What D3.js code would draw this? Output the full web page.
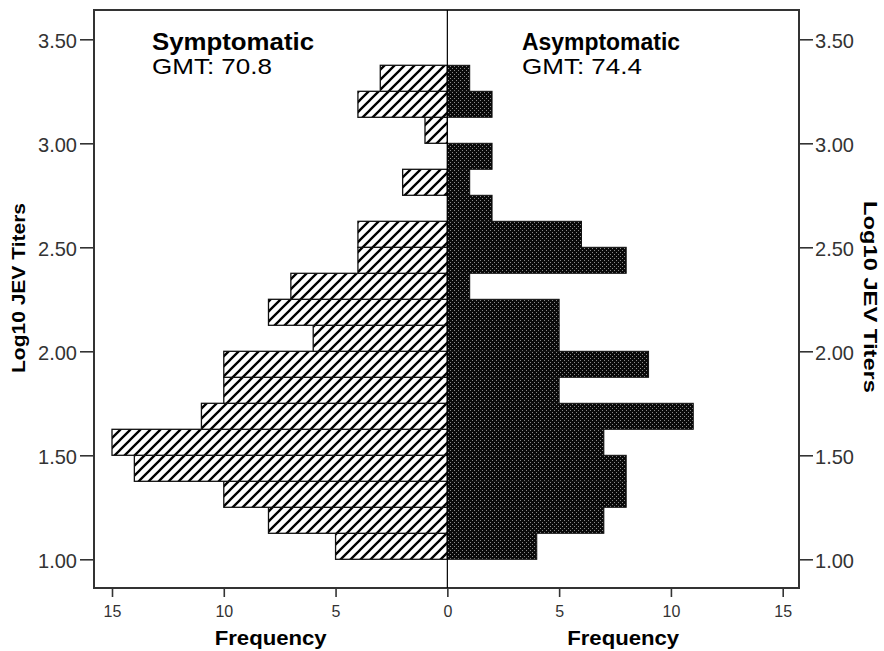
<!DOCTYPE html>
<html><head><meta charset="utf-8">
<script src="https://cdn.jsdelivr.net/npm/d3@7"></script>
<style>body{margin:0;background:#fff}svg{display:block}text{font-family:"Liberation Sans",Arial,sans-serif}</style>
</head><body>
<script>
// Bin lower edges (Log10 JEV titers), bin width 0.125
const binStarts = [1.000,1.125,1.250,1.375,1.500,1.625,1.750,1.875,2.000,2.125,2.250,2.375,2.500,2.625,2.750,2.875,3.000,3.125,3.250];
const binWidth = 0.125;
const symptomatic  = [5,8,10,14,15,11,10,10,6,8,7,4,4,0,2,0,1,4,3];
const asymptomatic = [4,7,8,8,7,11,5,9,5,5,1,8,6,2,1,2,0,2,1];
const yTicks = [1.00,1.50,2.00,2.50,3.00,3.50];
const xTicks = [0,5,10,15];
const groupNames = ["Symptomatic","Asymptomatic"];
const gmtLabels = ["GMT: 70.8","GMT: 74.4"];

const W=884,H=651;
const svg=d3.select("body").append("svg").attr("width",W).attr("height",H);
const defs=svg.append("defs");
const hatch=defs.append("pattern").attr("id","hatch").attr("patternUnits","userSpaceOnUse")
  .attr("width",10).attr("height",10);
hatch.append("rect").attr("width",10).attr("height",10).attr("fill","#fff");
hatch.append("path").attr("d","M0,10 L10,0 M-2.5,2.5 L2.5,-2.5 M7.5,12.5 L12.5,7.5")
  .attr("stroke","#000").attr("stroke-width",2.3);
const dots=defs.append("pattern").attr("id","dots").attr("patternUnits","userSpaceOnUse")
  .attr("width",4).attr("height",4);
dots.append("rect").attr("width",4).attr("height",4).attr("fill","#0a0a0a");
dots.append("rect").attr("x",0).attr("y",0).attr("width",1).attr("height",1).attr("fill","#8a8a8a");
dots.append("rect").attr("x",2).attr("y",2).attr("width",1).attr("height",1).attr("fill","#8a8a8a");

const frame={l:94,r:799,t:10,b:588};
const x=d3.scaleLinear().domain([-15,15]).range([112,782.7]);
const y=d3.scaleLinear().domain([1,3.5]).range([559.3,39.3]);

// bars
const data=binStarts.map((b,i)=>({b,s:symptomatic[i],a:asymptomatic[i]}));
svg.append("g").selectAll("rect").data(data.filter(d=>d.s>0)).join("rect")
  .attr("x",d=>x(-d.s)).attr("width",d=>x(0)-x(-d.s))
  .attr("y",d=>y(d.b+binWidth)).attr("height",d=>y(d.b)-y(d.b+binWidth))
  .attr("fill","url(#hatch)").attr("stroke","#111").attr("stroke-width",1.3);
svg.append("g").selectAll("rect").data(data.filter(d=>d.a>0)).join("rect")
  .attr("x",x(0)).attr("width",d=>x(d.a)-x(0))
  .attr("y",d=>y(d.b+binWidth)).attr("height",d=>y(d.b)-y(d.b+binWidth))
  .attr("fill","url(#dots)").attr("stroke","#111").attr("stroke-width",1);

// frame
svg.append("rect").attr("x",frame.l).attr("y",frame.t).attr("width",frame.r-frame.l).attr("height",frame.b-frame.t)
  .attr("fill","none").attr("stroke","#333").attr("stroke-width",2);
// center line
svg.append("line").attr("x1",x(0)).attr("x2",x(0)).attr("y1",frame.t).attr("y2",frame.b)
  .attr("stroke","#000").attr("stroke-width",1.2);

// y axes
const fmt=d3.format(".2f");
const yl=svg.append("g").attr("transform",`translate(${frame.l},0)`)
  .call(d3.axisLeft(y).tickValues(yTicks).tickFormat(fmt).tickSize(14).tickPadding(3));
const yr=svg.append("g").attr("transform",`translate(${frame.r},0)`)
  .call(d3.axisRight(y).tickValues(yTicks).tickFormat(fmt).tickSize(14).tickPadding(2));
[yl,yr].forEach(g=>{
  g.select(".domain").remove();
  g.selectAll(".tick line").attr("stroke","#333").attr("stroke-width",1.6);
  g.selectAll(".tick text").attr("fill","#333").attr("font-size",21).attr("dy",null).attr("y",null)
    .attr("dominant-baseline",null).attr("transform","translate(0,8.5)")
    .attr("textLength",39).attr("lengthAdjust","spacingAndGlyphs")
    .style("font-family","'Liberation Sans',Arial,sans-serif");
});

// x axes (mirrored)
const xl=svg.append("g").attr("transform",`translate(0,${frame.b})`)
  .call(d3.axisBottom(x).tickValues(xTicks.map(v=>-v)).tickFormat(v=>Math.abs(v)).tickSize(9).tickPadding(8));
const xr=svg.append("g").attr("transform",`translate(0,${frame.b})`)
  .call(d3.axisBottom(x).tickValues(xTicks.filter(v=>v>0)).tickFormat(v=>v).tickSize(9).tickPadding(8));
[xl,xr].forEach(g=>{
  g.select(".domain").remove();
  g.selectAll(".tick line").attr("stroke","#333").attr("stroke-width",1.6);
  g.selectAll(".tick text").attr("fill","#333").attr("font-size",16).attr("dy",null).attr("y",29)
    .style("font-family","'Liberation Sans',Arial,sans-serif");
});

// x titles
[[frame.l,x(0)],[x(0),frame.r]].forEach(([a,b])=>{
  svg.append("text").attr("x",(a+b)/2).attr("y",645).attr("text-anchor","middle")
    .attr("font-size",20).attr("font-weight","bold").attr("fill","#000")
    .attr("textLength",112).attr("lengthAdjust","spacingAndGlyphs").text("Frequency");
});
// y titles
svg.append("text").attr("transform","translate(25,288) rotate(-90)").attr("text-anchor","middle")
  .attr("font-size",18).attr("font-weight","bold").attr("fill","#000")
  .attr("textLength",170).attr("lengthAdjust","spacingAndGlyphs").text("Log10 JEV Titers");
svg.append("text").attr("transform","translate(864,297) rotate(90)").attr("text-anchor","middle")
  .attr("font-size",18).attr("font-weight","bold").attr("fill","#000")
  .attr("textLength",192).attr("lengthAdjust","spacingAndGlyphs").text("Log10 JEV Titers");

// group labels
[[152,0],[522,1]].forEach(([px,i])=>{
  svg.append("text").attr("x",px).attr("y",50).attr("font-size",23).attr("font-weight","bold")
    .attr("fill","#000").attr("textLength",i===0?162:158).attr("lengthAdjust","spacingAndGlyphs").text(groupNames[i]);
  svg.append("text").attr("x",px).attr("y",74.3).attr("font-size",22).attr("fill","#000")
    .attr("textLength",120).attr("lengthAdjust","spacingAndGlyphs").text(gmtLabels[i]);
});
</script>
</body></html>
